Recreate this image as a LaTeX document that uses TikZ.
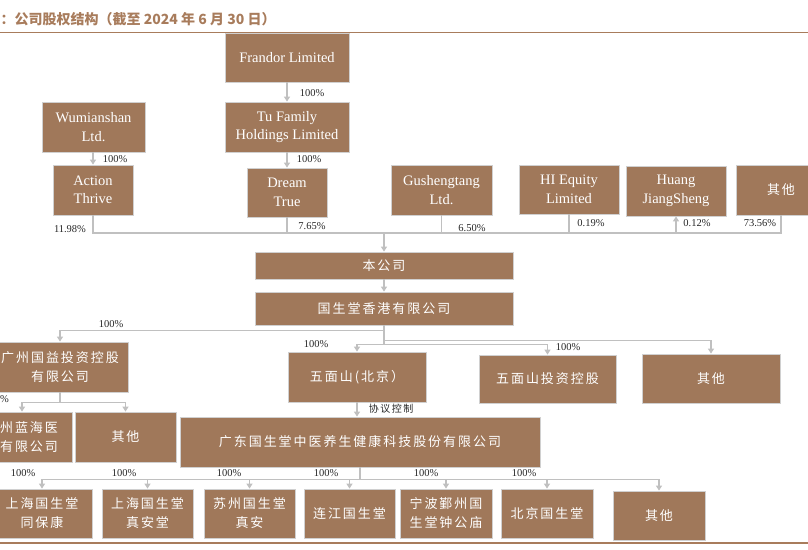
\documentclass[tikz,border=0pt]{standalone}
\usepackage{fontspec}
\setmainfont{Liberation Serif}
\newfontfamily\cjk[LetterSpace=15]{Noto Sans CJK SC}
\newfontfamily\cjktitle{Noto Sans CJK SC}
\usepackage{xcolor}
\usepackage{tikz}
\usetikzlibrary{arrows.meta,positioning,calc}
\definecolor{boxfill}{RGB}{160, 120, 90}
\definecolor{boxline}{RGB}{208, 208, 208}
\definecolor{linegray}{RGB}{192, 192, 192}
\definecolor{titlebrown}{RGB}{168, 124, 92}

\begin{document}
\begin{tikzpicture}[x=1pt, y=-1pt,
    box/.style={draw=boxline, line width=0.8pt, fill=boxfill, text=white, inner sep=0pt, align=center},
    enbox/.style={box, font=\fontsize{14.5}{18.5}\selectfont},
    cnbox/.style={box, font=\cjk\fontsize{13}{19}\selectfont},
    sz/.style 2 args={minimum width=#1pt, minimum height=#2pt},
    pct/.style={font=\fontsize{10.5}{12}\selectfont, text=black!85, inner sep=0pt},
    ln/.style={draw=linegray, line width=1.3pt},
    arr/.style={ln, -{Triangle[width=6pt,length=5pt]}}]
    \useasboundingbox (0,0) rectangle (808,549);
    \clip (0,0) rectangle (808,549);

    % title and rules
    \node[anchor=west, inner sep=0pt, text=titlebrown, font=\cjktitle\bfseries\fontsize{14}{16}\selectfont] (ttl) at (0.5,19) {：公司股权结构（截至 2024 年 6 月 30 日）};
    \draw[titlebrown, line width=1.5pt] (0,32.5) -- (808,32.5);
    \draw[titlebrown, line width=1.2pt] (0,543) -- (808,543);

    % shareholders
    \node[enbox, sz={124}{49}] (frandor) at (287,57.5) {Frandor Limited};
    \node[enbox, sz={124}{50}] (tu) at (287,127) {Tu Family\\Holdings Limited};
    \node[enbox, sz={103}{50}] (wumian) at (93.5,127) {Wumianshan\\Ltd.};
    \node[enbox, sz={80}{50}] (action) at (93,190) {Action\\Thrive};
    \node[enbox, sz={80}{49}] (dream) at (287,192.5) {Dream\\True};
    \node[enbox, sz={101}{50}] (gush) at (441.5,190) {Gushengtang\\Ltd.};
    \node[enbox, sz={100}{49}] (hieq) at (569,189.5) {HI Equity\\Limited};
    \node[enbox, sz={100}{50}] (huang) at (676,191) {Huang\\JiangSheng};
    \node[cnbox, sz={90}{50}] (othtop) at (781,190) {其他};

    \draw[arr] (frandor) -- (tu);
    \node[pct] (p1) at (312,93) {100\%};
    \draw[arr] (wumian.south -| action.north) -- (action);
    \node[pct] (p2) at (115,159) {100\%};
    \draw[arr] (tu) -- (dream);
    \node[pct] (p3) at (309,159) {100\%};

    % holding bus
    \coordinate (bus) at (384,233);
    \draw[ln] (action.south) |- (bus);
    \draw[ln] (dream.south) |- (bus);
    \draw[ln] (gush.south) |- (bus);
    \draw[ln] (hieq.south) |- (bus);
    \draw[ln] (othtop.south) |- (bus);
    \draw[arr] (bus) -| (huang.south);
    \node[pct] (s1) at (70,229) {11.98\%};
    \node[pct] (s2) at (312,226) {7.65\%};
    \node[pct] (s3) at (472,228) {6.50\%};
    \node[pct] (s4) at (591,223) {0.19\%};
    \node[pct] (s5) at (697,223) {0.12\%};
    \node[pct] (s6) at (760,223) {73.56\%};

    % company and subsidiaries
    \node[cnbox, sz={258}{27}] (self) at (384,265.5) {本公司};
    \node[cnbox, sz={258}{33}] (hk) at (384,308.5) {国生堂香港有限公司};
    \draw[arr] (bus) -- (self);
    \draw[arr] (self) -- (hk);

    \node[cnbox, sz={136}{50}] (gy) at (60,367) {广州国益投资控股\\有限公司};
    \node[cnbox, sz={138}{50}] (wmbj) at (357,377) {五面山(北京）};
    \node[cnbox, sz={137}{48}] (wmtz) at (547.5,379) {五面山投资控股};
    \node[cnbox, sz={138}{49}] (oth2) at (711,378.5) {其他};
    \draw[arr] (hk.south) -- ++(0,5) -| (gy.north);
    \draw[arr] (hk.south) -- ++(0,15) -| (oth2.north);
    \draw[arr] (hk.south) -- ++(0,19) -| (wmtz.north);
    \draw[arr] (hk.south) -- ++(0,19) -| (wmbj.north);
    \node[pct] (p4) at (111,324) {100\%};
    \node[pct] (p5) at (316,344) {100\%};
    \node[pct] (p6) at (568,347) {100\%};

    \node[cnbox, sz={86}{50}] (lz) at (29,437) {州蓝海医\\有限公司};
    \node[cnbox, sz={101}{50}] (oth3) at (125.5,437) {其他};
    \draw[arr] (gy.south) -- ++(0,10) -| ([xshift=-7pt]lz.north);
    \draw[arr] (gy.south) -- ++(0,10) -| (oth3.north);
    \node[pct, anchor=east] (p7) at (9,399) {100\%};

    \node[cnbox, sz={360}{50}] (gd) at (360,442) {广东国生堂中医养生健康科技股份有限公司};
    \draw[arr] (wmbj.south) -- (wmbj.south |- gd.north);
    \node[pct, font=\cjk\fontsize{10}{12}\selectfont] (ctrl) at (391,409) {协议控制};

    % clinics
    \node[cnbox, sz={100}{49}] (b1) at (42,513.5) {上海国生堂\\同保康};
    \node[cnbox, sz={91}{49}] (b2) at (147.5,513.5) {上海国生堂\\真安堂};
    \node[cnbox, sz={91}{49}] (b3) at (249.5,513.5) {苏州国生堂\\真安};
    \node[cnbox, sz={91}{49}] (b4) at (349.5,513.5) {连江国生堂};
    \node[cnbox, sz={92}{49}] (b5) at (446,513.5) {宁波鄞州国\\生堂钟公庙};
    \node[cnbox, sz={92}{49}] (b6) at (547,513.5) {北京国生堂};
    \node[cnbox, sz={92}{49}] (b7) at (659,515.5) {其他};
    \draw[arr] (gd.south) -- ++(0,12) -| (b1.north);
    \draw[arr] (gd.south) -- ++(0,12) -| (b2.north);
    \draw[arr] (gd.south) -- ++(0,12) -| (b3.north);
    \draw[arr] (gd.south) -- ++(0,12) -| (b4.north);
    \draw[arr] (gd.south) -- ++(0,12) -| (b5.north);
    \draw[arr] (gd.south) -- ++(0,12) -| (b6.north);
    \draw[arr] (gd.south) -- ++(0,12) -| (b7.north);
    \node[pct] (q1) at (23,473) {100\%};
    \node[pct] (q2) at (124,473) {100\%};
    \node[pct] (q3) at (229,473) {100\%};
    \node[pct] (q4) at (326,473) {100\%};
    \node[pct] (q5) at (426,473) {100\%};
    \node[pct] (q6) at (524,473) {100\%};
\end{tikzpicture}
\end{document}
